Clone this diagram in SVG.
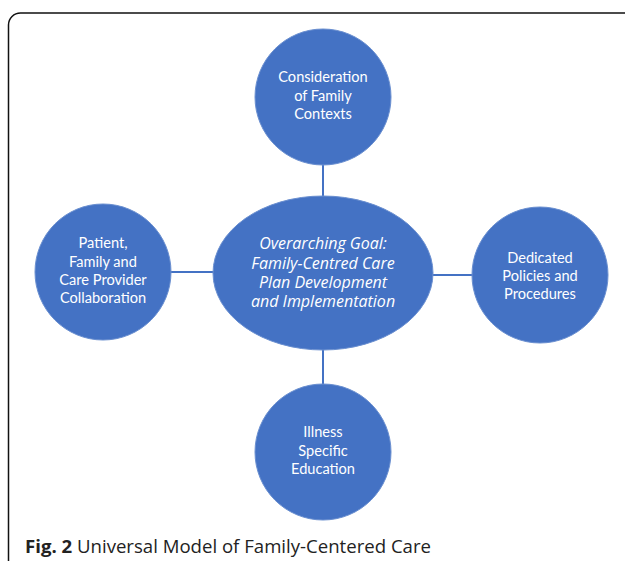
<svg xmlns="http://www.w3.org/2000/svg" width="625" height="561" viewBox="0 0 625 561">
<style>
.node{fill:#4472C4;stroke:#6a8fd0;stroke-width:1}
.t{font-family:Lato,"Open Sans",sans-serif;font-size:14.6px;fill:#fff;text-anchor:middle}
.ti{font-family:"Open Sans",Lato,sans-serif;font-size:16px;font-style:italic;fill:#fff;text-anchor:middle}
.conn{stroke:#4472C4;stroke-width:2;fill:none}
.cap{font-family:"Open Sans","Noto Sans",sans-serif;font-size:18.6px;fill:#222}
</style>
<rect x="0" y="0" width="625" height="561" fill="#fff"/>
<rect x="8.5" y="13" width="640" height="580" rx="12" fill="none" stroke="#111" stroke-width="1.5"/>
<g id="connectors">
<line class="conn" x1="323" y1="165" x2="323" y2="198"/>
<line class="conn" x1="323" y1="349" x2="323" y2="386"/>
<line class="conn" x1="170" y1="272" x2="214" y2="272"/>
<line class="conn" x1="431" y1="275" x2="473" y2="275"/>
</g>
<g id="top">
<circle class="node" cx="323" cy="97" r="68"/>
<text class="t" x="323" y="82">Consideration</text>
<text class="t" x="323" y="101">of Family</text>
<text class="t" x="323" y="119">Contexts</text>
</g>
<g id="left">
<circle class="node" cx="103" cy="272" r="68"/>
<text class="t" x="103" y="248">Patient,</text>
<text class="t" x="103" y="267">Family and</text>
<text class="t" x="103" y="285">Care Provider</text>
<text class="t" x="103" y="303">Collaboration</text>
</g>
<g id="right">
<circle class="node" cx="540" cy="275" r="68"/>
<text class="t" x="540" y="263">Dedicated</text>
<text class="t" x="540" y="281">Policies and</text>
<text class="t" x="540" y="299">Procedures</text>
</g>
<g id="bottom">
<circle class="node" cx="323" cy="452" r="68"/>
<text class="t" x="323" y="437">Illness</text>
<text class="t" x="323" y="456">Specific</text>
<text class="t" x="323" y="474">Education</text>
</g>
<g id="center">
<ellipse class="node" cx="323" cy="273" rx="110" ry="77"/>
<text class="ti" x="323" y="249">Overarching Goal:</text>
<text class="ti" x="323" y="269">Family-Centred Care</text>
<text class="ti" x="323" y="288">Plan Development</text>
<text class="ti" x="323" y="307">and Implementation</text>
</g>
<text class="cap" x="25" y="553"><tspan font-weight="bold">Fig. 2</tspan> Universal Model of Family-Centered Care</text>
</svg>
